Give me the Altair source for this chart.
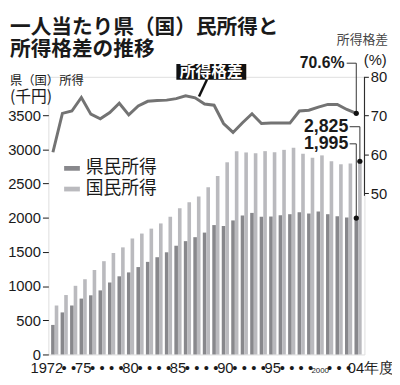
import altair as alt
import pandas as pd

# ---------------- data ----------------
YEARS = list(range(1972, 2005))
PREF_INCOME = [432, 615, 716, 817, 865, 937, 1052, 1143, 1200, 1278, 1354, 1422, 1494,
               1590, 1657, 1715, 1782, 1892, 1878, 1960, 2032, 2070, 2013, 2017, 2034,
               2051, 2080, 2061, 2089, 2051, 2022, 2003, 1995]
NATL_INCOME = [716, 869, 1004, 1100, 1235, 1364, 1484, 1566, 1696, 1768, 1840, 1916, 2013,
               2137, 2224, 2310, 2445, 2608, 2810, 2973, 2954, 2944, 2973, 2958, 2992,
               3021, 2935, 2877, 2911, 2824, 2781, 2791, 2825]
GAP_PCT = [60.6, 70.6, 71.2, 74.7, 70.4, 69.2, 70.8, 73.2, 70.2, 72.5, 73.7, 73.9, 74.0,
           74.4, 75.1, 74.6, 73.0, 72.7, 68.0, 65.7, 68.2, 70.5, 68.0, 68.1, 68.1,
           68.1, 71.2, 71.4, 72.2, 72.9, 72.9, 71.6, 70.6]
SERIES = ["県民所得", "国民所得"]
LEFT_TICKS = [0, 500, 1000, 1500, 2000, 2500, 3000, 3500]
RIGHT_TICKS = [50, 60, 70, 80]
LATEST_YEAR = 2004
BAR_LABELS = {"県民所得": "1,995", "国民所得": "2,825"}
GAP_LABEL = "70.6%"
TITLE_LINES = ["一人当たり県（国）民所得と", "所得格差の推移"]
LEFT_TITLE = ["県（国）所得", "(千円)"]
RIGHT_TITLE = ["所得格差", "(%)"]
CALLOUT = "所得格差"

# ---------------- layout / style ----------------
W, H = 321, 282
LEFT_DOMAIN = [0, 4060]
RIGHT_DOMAIN = [8.6, 80]
LEADER_TOP = {"県民所得": 3080, "国民所得": 3330}
GAP_LEADER_TOP = 83.5
DARK, LIGHT = "#88888c", "#bababe"
LINE_COLOR = "#737373"
INK = "#1a1a1a"
JP = "Noto Sans CJK JP"
NUM = "Liberation Sans"
NARROW = "Liberation Sans Narrow, Liberation Sans, sans-serif"

bars_df = pd.DataFrame({
    "year": YEARS * 2,
    "series": [SERIES[0]] * len(YEARS) + [SERIES[1]] * len(YEARS),
    "value": PREF_INCOME + NATL_INCOME,
})
gap_df = pd.DataFrame({"year": YEARS, "gap": GAP_PCT})

latest = bars_df[bars_df.year == LATEST_YEAR].copy()
latest["lead_top"] = latest["series"].map(LEADER_TOP)
latest["label"] = latest["series"].map(BAR_LABELS)
gap_latest = gap_df[gap_df.year == LATEST_YEAR].copy()
gap_latest["lead_top"] = GAP_LEADER_TOP
gap_latest["label"] = GAP_LABEL
one = pd.DataFrame({"k": [0]})

X_AXIS = alt.Axis(
    title=None, ticks=False, tickSize=0, domain=False, grid=False, labelAngle=0,
    labelOverlap=False, labelFont=NARROW,
    labelFontSize={"condition": {"test": "datum.value == 2000", "value": 8}, "value": 15},
    labelColor=INK, labelPadding=18, labelBaseline="alphabetic",
    labelOffset={"condition": [{"test": "datum.value == 1972", "value": -8},
                               {"test": "datum.value == 2004", "value": 13}], "value": 0},
    labelExpr=("datum.value == 1972 ? '1972' : datum.value == 2000 ? '2000' : "
               "datum.value == 2004 ? '04年度' : datum.value % 5 == 0 ? "
               "substring('' + datum.value, 2, 4) : '•'"),
)
X_SCALE = alt.Scale(paddingInner=0.24, paddingOuter=0.29)


def xenc(**kw):
    return alt.X("year:O", title=None, scale=X_SCALE, axis=X_AXIS, **kw)


XOFF = alt.XOffset("series:N", sort=SERIES, scale=alt.Scale(domain=SERIES))

LEFT_AXIS = alt.Axis(orient="left", values=LEFT_TICKS, format="d", title=None, domain=False,
                     grid=False, tickSize=6, tickColor=INK, labelFont=NUM, labelFontSize=15,
                     labelColor=INK, labelPadding=2)
RIGHT_AXIS = alt.Axis(orient="right", values=RIGHT_TICKS, format="d", title=None, domain=False,
                      grid=False, tickSize=4, tickColor=INK, labelFont=NUM, labelFontSize=15,
                      labelColor=INK, labelPadding=2)


def yleft(field):
    return alt.Y(f"{field}:Q", scale=alt.Scale(domain=LEFT_DOMAIN, nice=False, zero=False),
                 axis=LEFT_AXIS, title=None)


def yright(field):
    return alt.Y(f"{field}:Q", scale=alt.Scale(domain=RIGHT_DOMAIN, nice=False, zero=False),
                 axis=RIGHT_AXIS, title=None)


# ---------------- left-scale layer (bars) ----------------
bars = alt.Chart(bars_df).mark_bar().encode(
    x=xenc(), xOffset=XOFF, y=yleft("value"),
    color=alt.Color("series:N", sort=SERIES,
                    scale=alt.Scale(domain=SERIES, range=[DARK, LIGHT]),
                    legend=alt.Legend(orient="none", legendX=15, legendY=84, title=None,
                                      symbolType="M-1,-0.3H1V0.3H-1Z", symbolSize=256,
                                      symbolStrokeWidth=0, symbolOpacity=1,
                                      labelFont=JP, labelFontSize=18, labelColor=INK,
                                      labelOffset=5, rowPadding=3, padding=0)),
)
bar_vlead = alt.Chart(latest).mark_rule(color="#333", strokeWidth=1).encode(
    x=xenc(), xOffset=XOFF, y=yleft("value"), y2="lead_top:Q")
bar_hlead = alt.Chart(latest).mark_rule(color="#333", strokeWidth=1).encode(
    x=xenc(), xOffset=XOFF, x2=alt.value(306), y=yleft("lead_top"))
bar_dots = alt.Chart(latest).mark_point(filled=True, size=28, color="#111", opacity=1).encode(
    x=xenc(), xOffset=XOFF, y=yleft("value"))
bar_text = alt.Chart(latest).mark_text(align="right", baseline="middle", dx=-10, font=NUM,
                                        fontSize=18, fontWeight="bold", color=INK).encode(
    x=xenc(), y=yleft("lead_top"), text="label:N")

left_layer = alt.layer(bars, bar_vlead, bar_hlead, bar_dots, bar_text)

# ---------------- right-scale layer (gap line) ----------------
line = alt.Chart(gap_df).mark_line(color=LINE_COLOR, strokeWidth=3).encode(
    x=xenc(bandPosition=0.25), y=yright("gap"))
gap_vlead = alt.Chart(gap_latest).mark_rule(color="#333", strokeWidth=1).encode(
    x=xenc(bandPosition=0.25), y=yright("gap"), y2="lead_top:Q")
gap_hlead = alt.Chart(gap_latest).mark_rule(color="#333", strokeWidth=1).encode(
    x=xenc(bandPosition=0.25), x2=alt.value(303), y=yright("lead_top"))
gap_dot = alt.Chart(gap_latest).mark_point(filled=True, size=28, color="#111", opacity=1).encode(
    x=xenc(bandPosition=0.25), y=yright("gap"))
gap_text = alt.Chart(gap_latest).mark_text(align="right", baseline="middle", dx=-12, font=NUM,
                                           fontSize=16, fontWeight="bold", color=INK).encode(
    x=xenc(bandPosition=0.25), y=yright("lead_top"), text="label:N")
right_domain_line = alt.Chart(one).mark_rule(color=INK, strokeWidth=1).encode(
    x=alt.value(W),
    y=alt.YDatum(49.4, axis=RIGHT_AXIS,
                 scale=alt.Scale(domain=RIGHT_DOMAIN, nice=False, zero=False)),
    y2=alt.datum(80))


def txt(text, x, y, size, weight="normal", align="left", color=INK, font=JP, baseline="alphabetic"):
    return alt.Chart(one).mark_text(text=text, align=align, baseline=baseline, font=font,
                                    fontSize=size, fontWeight=weight, color=color).encode(
        x=alt.value(x), y=alt.value(y))


callout_box = alt.Chart(one).mark_rect(color="#111").encode(
    x=alt.value(130), x2=alt.value(201), y=alt.value(-13), y2=alt.value(3))
callout_ptr = alt.Chart(one).mark_rule(color="#111", strokeWidth=2.5).encode(
    x=alt.value(161), x2=alt.value(153), y=alt.value(3), y2=alt.value(20))

decor = [
    txt(TITLE_LINES[0], -39, -43.5, 21, "bold"),
    txt(TITLE_LINES[1], -39, -21.5, 21, "bold"),
    txt(RIGHT_TITLE[0], 293, -33, 13, color="#444"),
    txt(RIGHT_TITLE[1], 332, -12, 15, align="center", font=NUM),
    txt(LEFT_TITLE[0], -39, 8, 12.5),
    txt(LEFT_TITLE[1], -39, 26, 16),
    callout_box, callout_ptr,
    txt(CALLOUT, 165.5, -5, 16, "bold", align="center", color="white", baseline="middle"),
]

right_layer = alt.layer(line, gap_vlead, gap_hlead, gap_dot, gap_text, right_domain_line, *decor)

chart = alt.layer(left_layer, right_layer).resolve_scale(y="independent").properties(
    width=W, height=H,
    autosize=alt.AutoSizeParams(type="none"),
    padding={"left": 41, "top": 67, "right": 28, "bottom": 20},
).configure_view(stroke=None).configure(background="white")

chart.save("out.html", embed_options={"renderer": "svg", "actions": False})
